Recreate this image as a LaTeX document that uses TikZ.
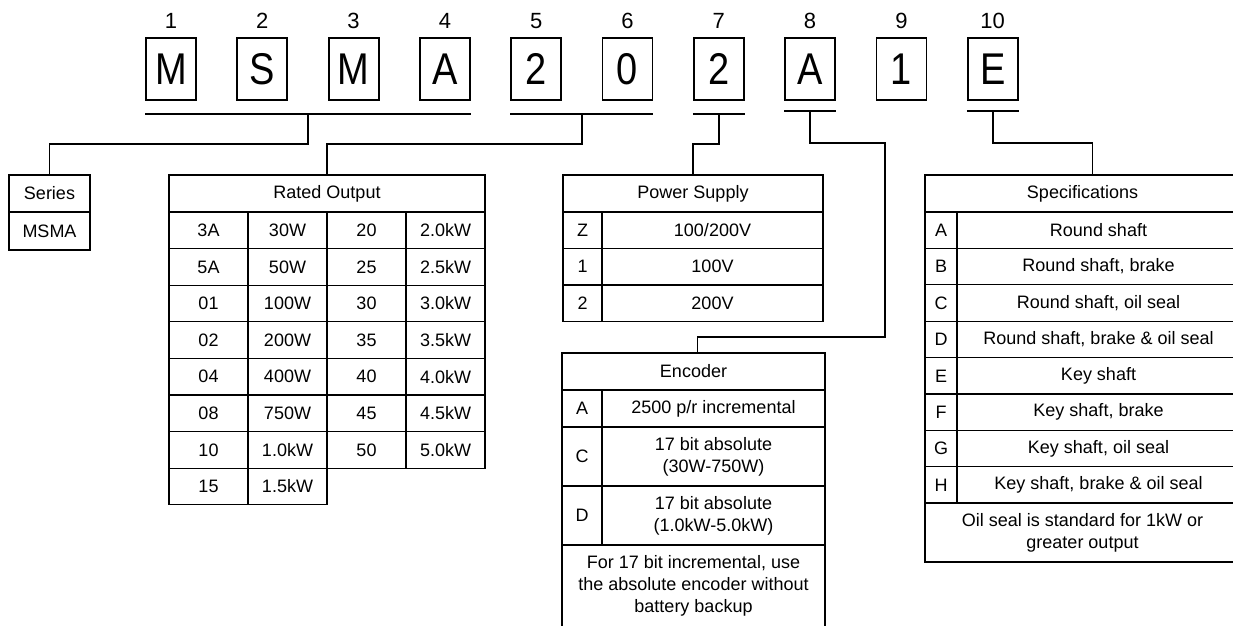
\documentclass[tikz,border=0pt]{standalone}
\usepackage{fontspec}
\setmainfont{Liberation Sans}
\usepackage{graphicx}
\usepackage{tikz}
\usetikzlibrary{positioning,calc}

\tikzset{
    codebox/.style={draw, line width=1.8pt, minimum width=50pt, minimum height=62pt,
        inner sep=0pt, font=\fontsize{38}{38}\selectfont},
    codenum/.style={inner sep=0pt, font=\fontsize{22}{22}\selectfont},
    bar/.style={line width=2.4pt},
    link/.style={line width=1.8pt},
    cell/.style={draw, line width=1.2pt, inner sep=0pt, outer sep=0pt, anchor=north west,
        align=center, font=\fontsize{18}{22}\selectfont}
}

\begin{document}
\begin{tikzpicture}[x=1pt, y=-1pt]
    \useasboundingbox (0,0) rectangle (1233,625);
    \clip (0,0) rectangle (1233,625);
    % Code characters and positions
    \foreach \ch [count=\i] in {M,S,M,A,2,0,2,A,1,E} {
        \node[codebox] (c\i) at ({171+91.3*(\i-1)},69) {\scalebox{1}[1.17]{\ch}};
        \node[codenum] (n\i) at ({171+91.3*(\i-1)},21) {\i};
    }
    % Underlines
    \draw[bar] ($(c1.south west)+(0,13)$) -- ($(c4.south east)+(0,13)$);
    \draw[bar] ($(c5.south west)+(0,13)$) -- ($(c6.south east)+(0,13)$);
    \draw[bar] ($(c7.south west)+(0,13)$) -- ($(c7.south east)+(0,13)$);
    \draw[bar] ($(c8.south west)+(0,10)$) -- ($(c8.south east)+(0,10)$);
    \draw[bar] ($(c10.south west)+(0,10)$) -- ($(c10.south east)+(0,10)$);
    \coordinate (u1) at ($(c1.south)!0.5!(c4.south)+(0,13)$);
    \coordinate (u2) at ($(c5.south)!0.5!(c6.south)+(0,13)$);
    \coordinate (u3) at ($(c7.south)+(0,13)$);
    \coordinate (u4) at ($(c8.south)+(0,10)$);
    \coordinate (u5) at ($(c10.south)+(0,10)$);

    % Series
    \node[cell, minimum width=81pt, minimum height=37pt] (series) at (9,175) {Series};
    \node[cell, minimum width=81pt, minimum height=38pt] (msma) at (9,212) {MSMA};

    % Rated output
    \node[cell, minimum width=316pt, minimum height=37pt] (rated) at (169,175) {Rated Output};
    \foreach \ka/\wa/\kb/\wb [count=\r from 0] in {3A/30W/20/2.0kW, 5A/50W/25/2.5kW,
            01/100W/30/3.0kW, 02/200W/35/3.5kW, 04/400W/40/4.0kW, 08/750W/45/4.5kW,
            10/1.0kW/50/5.0kW} {
        \node[cell, minimum width=79pt, minimum height=36.6pt] (ra\r) at (169,{212+36.6*\r}) {\ka};
        \node[cell, minimum width=79pt, minimum height=36.6pt] (wa\r) at (248,{212+36.6*\r}) {\wa};
        \node[cell, minimum width=79pt, minimum height=36.6pt] (rb\r) at (327,{212+36.6*\r}) {\kb};
        \node[cell, minimum width=79pt, minimum height=36.6pt] (wb\r) at (406,{212+36.6*\r}) {\wb};
    }
    \node[cell, minimum width=79pt, minimum height=36.6pt] (ra7) at (169,468.2) {15};
    \node[cell, minimum width=79pt, minimum height=36.6pt] (wa7) at (248,468.2) {1.5kW};

    % Power supply
    \node[cell, minimum width=260pt, minimum height=37pt] (power) at (563,175) {Power Supply};
    \node[cell, minimum width=39pt, minimum height=36.5pt] (pz) at (563,212) {Z};
    \node[cell, minimum width=221pt, minimum height=36.5pt] (pzv) at (602,212) {100/200V};
    \node[cell, minimum width=39pt, minimum height=36.5pt] (p1) at (563,248.5) {1};
    \node[cell, minimum width=221pt, minimum height=36.5pt] (p1v) at (602,248.5) {100V};
    \node[cell, minimum width=39pt, minimum height=36.5pt] (p2) at (563,285) {2};
    \node[cell, minimum width=221pt, minimum height=36.5pt] (p2v) at (602,285) {200V};

    % Encoder
    \node[cell, minimum width=263pt, minimum height=37pt] (encoder) at (562,353) {Encoder};
    \node[cell, minimum width=40pt, minimum height=37pt] (ea) at (562,390) {A};
    \node[cell, minimum width=223pt, minimum height=37pt] (eav) at (602,390) {2500 p/r incremental};
    \node[cell, minimum width=40pt, minimum height=59pt] (ec) at (562,427) {C};
    \node[cell, minimum width=223pt, minimum height=59pt] (ecv) at (602,427) {17 bit absolute\\(30W-750W)};
    \node[cell, minimum width=40pt, minimum height=59pt] (ed) at (562,486) {D};
    \node[cell, minimum width=223pt, minimum height=59pt] (edv) at (602,486) {17 bit absolute\\(1.0kW-5.0kW)};
    \node[cell, minimum width=263pt, minimum height=82pt] (enote) at (562,545)
        {For 17 bit incremental, use\\the absolute encoder without\\battery backup};

    % Specifications
    \node[cell, minimum width=315pt, minimum height=37pt] (spec) at (925,175) {Specifications};
    \foreach \k/\v [count=\r from 0] in {A/Round shaft, B/{Round shaft, brake},
            C/{Round shaft, oil seal}, D/{Round shaft, brake \& oil seal}, E/Key shaft,
            F/{Key shaft, brake}, G/{Key shaft, oil seal}, H/{Key shaft, brake \& oil seal}} {
        \node[cell, minimum width=32pt, minimum height=36.4pt] (sk\r) at (925,{212+36.4*\r}) {\k};
        \node[cell, minimum width=283pt, minimum height=36.4pt] (sv\r) at (957,{212+36.4*\r}) {\v};
    }
    \node[cell, minimum width=315pt, minimum height=59pt] (snote) at (925,503)
        {Oil seal is standard for 1kW or\\greater output};

    % Connectors
    \draw[link] (u1) -- ++(0,30) -| (series.north);
    \draw[link] (u2) -- ++(0,30) -| (rated.north);
    \draw[link] (u3) -- ++(0,30) -| (power.north);
    \draw[link] (u4) -- ++(0,32) -| (885,337) -| ([xshift=4pt]encoder.north);
    \draw[link] (u5) -- ++(0,32) -| ([xshift=10pt]spec.north);
\end{tikzpicture}
\end{document}
